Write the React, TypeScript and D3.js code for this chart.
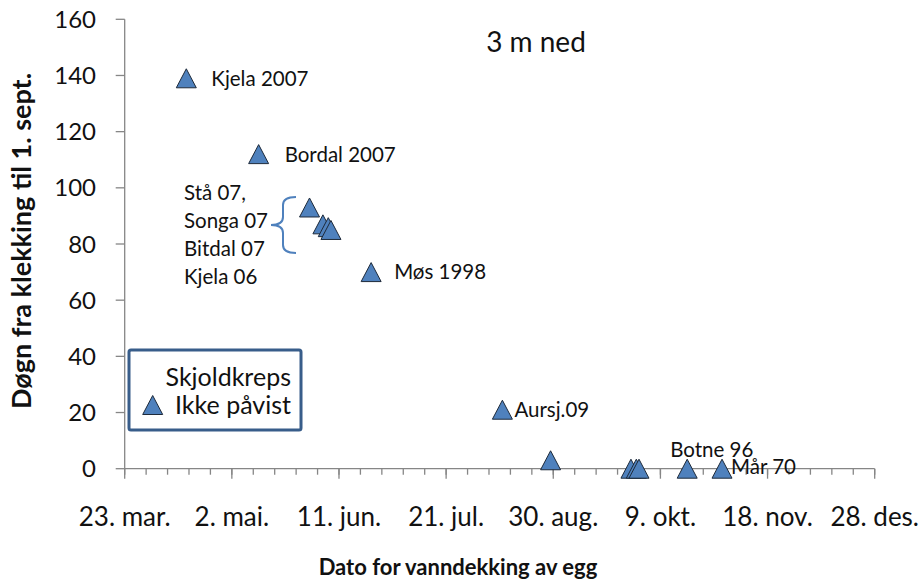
import React from "react";
import * as d3 from "d3";

const W = 923;
const H = 583;

// x tick labels (every 40 days from 23 March)
const xTickLabels = ["23. mar.", "2. mai.", "11. jun.", "21. jul.", "30. aug.", "9. okt.", "18. nov.", "28. des."];
const yTicks = [0, 20, 40, 60, 80, 100, 120, 140, 160];

// data: date of water covering of eggs, days from hatching to 1 Sept
const pointDates = [
  "2009-04-15", "2009-05-12", "2009-05-31", "2009-06-05", "2009-06-07", "2009-06-08",
  "2009-06-23", "2009-08-11", "2009-08-29", "2009-09-28", "2009-09-30", "2009-10-01",
  "2009-10-19", "2009-11-01",
];
const pointDays = [139, 112, 93, 87, 86, 85, 70, 21, 3, 0, 0, 0, 0, 0];
const pointLabels = ["Kjela 2007", "Bordal 2007", "", "", "", "", "Møs 1998", "Aursj.09", "", "", "", "", "Botne 96", "Mår 70"];
const groupLabels = ["Stå 07,", "Songa 07", "Bitdal 07", "Kjela 06"];

const labelOffsets: Record<string, [number, number]> = {
  "Kjela 2007": [25, 0],
  "Bordal 2007": [26, 0],
  "Møs 1998": [23, 0],
  "Aursj.09": [12, 0],
  "Botne 96": [-17, -19],
  "Mår 70": [9, -2],
};

const FONT = "Lato, 'Open Sans', sans-serif";
const parse = d3.timeParse("%Y-%m-%d");

export default function App() {
  const start = new Date(2009, 2, 23);
  const end = d3.timeDay.offset(start, 280);
  const x = d3.scaleTime().domain([start, end]).range([124.7, 874.7]);
  const y = d3.scaleLinear().domain([0, 160]).range([468.7, 19.3]);

  const majorTicks = xTickLabels.map((_, i) => d3.timeDay.offset(start, i * 40));
  const minorTicks = d3.range(0, 281, 8).map((d) => d3.timeDay.offset(start, d));

  const tri = (cx: number, cy: number) => {
    const w = 10, h = 9.5;
    return `M${cx},${cy - h}L${cx + w},${cy + h}L${cx - w},${cy + h}Z`;
  };

  const axisColor = "#868686";
  const fill = "#4f81bd";

  return (
    <svg width={W} height={H} style={{ position: "absolute", left: 0, top: 0, background: "#fff" }} fontFamily={FONT}>
      {/* y axis */}
      <line x1={x(start)} x2={x(start)} y1={y(160)} y2={y(0)} stroke={axisColor} strokeWidth={1.3} />
      {yTicks.map((t) => (
        <g key={t}>
          <line x1={x(start) - 9} x2={x(start)} y1={y(t)} y2={y(t)} stroke={axisColor} strokeWidth={1.3} />
          <text x={96} y={y(t)} dy="0.36em" textAnchor="end" fontSize={24} fill="#111">{t}</text>
        </g>
      ))}
      {/* x axis */}
      <line x1={x(start)} x2={x(end)} y1={y(0)} y2={y(0)} stroke={axisColor} strokeWidth={1.3} />
      {minorTicks.map((t, i) => (
        <line key={i} x1={x(t)} x2={x(t)} y1={y(0)} y2={y(0) + 6} stroke={axisColor} strokeWidth={1.3} />
      ))}
      {majorTicks.map((t, i) => (
        <g key={i}>
          <line x1={x(t)} x2={x(t)} y1={y(0)} y2={y(0) + 10} stroke={axisColor} strokeWidth={1.3} />
          <text x={x(t)} y={526} textAnchor="middle" fontSize={26} fill="#111">{xTickLabels[i]}</text>
        </g>
      ))}

      {/* axis titles */}
      <text x={458} y={575} textAnchor="middle" fontSize={22} fontWeight="bold" fill="#111">Dato for vanndekking av egg</text>
      <text transform={`translate(31,241) rotate(-90)`} textAnchor="middle" fontSize={27} fontWeight="bold" fill="#111">Døgn fra klekking til 1. sept.</text>

      {/* title */}
      <text x={536} y={52} textAnchor="middle" fontSize={28} fill="#111">3 m ned</text>

      {/* group label + brace */}
      {groupLabels.map((l, i) => (
        <text key={l} x={184} y={193 + i * 28} dy="0.36em" fontSize={20.5} fill="#111">{l}</text>
      ))}
      <path d="M296,197 Q283,197 283,205 L283,217 Q283,225 271,225 Q283,225 283,233 L283,245 Q283,253 296,253" fill="none" stroke={fill} strokeWidth={2} />

      {/* points */}
      {pointDates.map((d, i) => {
        const cx = x(parse(d) as Date);
        const cy = y(pointDays[i]);
        return <path key={i} d={tri(cx, cy)} fill={fill} stroke="#1e2a3a" strokeWidth={1} />;
      })}
      {pointDates.map((d, i) => {
        const lab = pointLabels[i];
        if (!lab) return null;
        const [ox, oy] = labelOffsets[lab];
        return (
          <text key={"l" + i} x={x(parse(d) as Date) + ox} y={y(pointDays[i]) + oy} dy="0.36em" fontSize={20.5} fill="#111">{lab}</text>
        );
      })}

      {/* legend */}
      <rect x={129} y={350} width={172} height={80} rx={2} fill="#fff" stroke="#385d8a" strokeWidth={3} />
      <text x={291} y={377} dy="0.36em" textAnchor="end" fontSize={25} fill="#111">Skjoldkreps</text>
      <path d={tri(152.7, 405)} fill={fill} stroke="#1e2a3a" strokeWidth={1} />
      <text x={291} y={405} dy="0.36em" textAnchor="end" fontSize={25} fill="#111">Ikke påvist</text>
    </svg>
  );
}
